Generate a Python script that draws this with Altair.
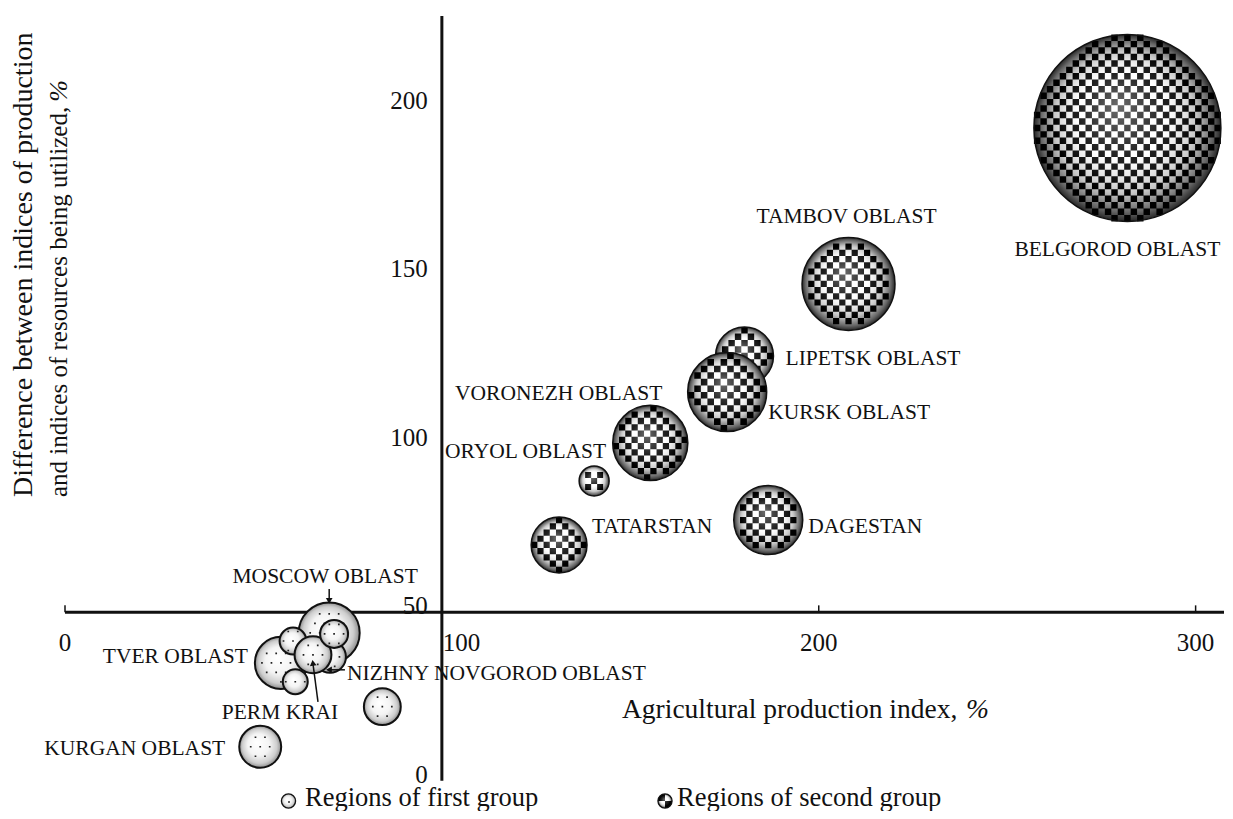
import math
import altair as alt
import pandas as pd

# ---------------- data ----------------
region = ["MOSCOW OBLAST", "NIZHNY NOVGOROD OBLAST", "TVER OBLAST", "unlabeled A",
          "PERM KRAI", "unlabeled D", "unlabeled B", "unlabeled C", "KURGAN OBLAST",
          "TATARSTAN", "ORYOL OBLAST", "VORONEZH OBLAST", "LIPETSK OBLAST",
          "KURSK OBLAST", "DAGESTAN", "TAMBOV OBLAST", "BELGOROD OBLAST"]
label = ["MOSCOW OBLAST", "NIZHNY NOVGOROD OBLAST", "TVER OBLAST", "",
         "PERM KRAI", "", "", "", "KURGAN OBLAST",
         "TATARSTAN", "ORYOL OBLAST", "VORONEZH OBLAST", "LIPETSK OBLAST",
         "KURSK OBLAST", "DAGESTAN", "TAMBOV OBLAST", "BELGOROD OBLAST"]
production_index = [70.1, 70.3, 57.3, 60.5, 65.8, 71.4, 61.1, 84.2, 51.8,
                    131.1, 140.4, 155.3, 180.3, 175.7, 186.6, 207.9, 281.9]
index_difference = [43.9, 36.8, 35.0, 41.5, 37.4, 43.6, 29.4, 22.0, 10.1,
                    70.0, 89.0, 100.3, 126.1, 115.4, 77.4, 147.5, 193.8]
bubble_value = [9.3, 2.56, 6.8, 1.8, 3.4, 1.96, 1.56, 3.4, 4.4,
                7.8, 2.25, 14.1, 8.4, 15.6, 11.9, 21.6, 87.4]
group = [1, 1, 1, 1, 1, 1, 1, 1, 1, 2, 2, 2, 2, 2, 2, 2, 2]

x_tick_values = [0, 100, 200, 300]
y_tick_values = [0, 50, 100, 150, 200]
axis_cross = (100, 50)
x_title = "Agricultural production index,"
y_title_lines = ["Difference between indices of production",
                 "and indices of resources being utilized,"]
unit_sign = "%"
legend_labels = ["Regions of first group", "Regions of second group"]

# ---------------- layout / style ----------------
FONT = "Liberation Serif"
INK = "#111111"
W, H = 1157, 793
XDOM = [0, 307]
YDOM = [-6, 229.4]
PX_X = W / (XDOM[1] - XDOM[0])
PX_Y = H / (YDOM[1] - YDOM[0])
SIZE_RANGE = 40000  # symbol size for value 100  -> radius = 10*sqrt(v) px

df = pd.DataFrame(dict(region=region, label=label, x=production_index,
                       y=index_difference, v=bubble_value, group=group))


def X(f="x"):
    return alt.X(f"{f}:Q", scale=alt.Scale(domain=XDOM, nice=False, zero=False), axis=None)


def Y(f="y"):
    return alt.Y(f"{f}:Q", scale=alt.Scale(domain=YDOM, nice=False, zero=False), axis=None)


size_enc = alt.Size("v:Q", scale=alt.Scale(type="linear", domain=[0, 100], range=[0, SIZE_RANGE], zero=True),
                    legend=None)

GRAD1 = alt.RadialGradient(
    gradient="radial",
    stops=[alt.GradientStop(color="#ffffff", offset=0),
           alt.GradientStop(color="#f4f4f4", offset=0.5),
           alt.GradientStop(color="#cdcdcd", offset=0.82),
           alt.GradientStop(color="#8c8c8c", offset=1)],
    x1=0.42, y1=0.4, r1=0.02, x2=0.5, y2=0.5, r2=0.5)
SHADE2 = alt.RadialGradient(
    gradient="radial",
    stops=[alt.GradientStop(color="rgba(255,255,255,0.40)", offset=0),
           alt.GradientStop(color="rgba(255,255,255,0.12)", offset=0.45),
           alt.GradientStop(color="rgba(0,0,0,0.22)", offset=0.75),
           alt.GradientStop(color="rgba(0,0,0,0.60)", offset=0.92),
           alt.GradientStop(color="rgba(0,0,0,0.85)", offset=1)],
    x1=0.45, y1=0.38, r1=0.02, x2=0.5, y2=0.5, r2=0.5)


def checker_path(r_px, cell_px=6.4):
    """Checkerboard texture as a symbol path in [-1, 1] units."""
    n = max(3, int(round(2 * r_px / cell_px)))
    c = 2.0 / n
    parts = []
    for i in range(n):
        for j in range(n):
            if (i + j) % 2:
                continue
            x0, y0 = -1 + i * c, -1 + j * c
            fx = max(abs(x0), abs(x0 + c))
            fy = max(abs(y0), abs(y0 + c))
            if fx * fx + fy * fy <= 1.03:
                parts.append(f"M{x0:.4f},{y0:.4f}h{c:.4f}v{c:.4f}h{-c:.4f}z")
    return "".join(parts) or "M0,0h0.01v0.01z"


def dots_path(r_px, spacing_px=9.5, dot_px=1.7):
    """Sparse dot texture as a symbol path in [-1, 1] units."""
    su = spacing_px / r_px
    du = dot_px / 2 / r_px
    k = int(1 / su) + 1
    parts = []
    for j in range(-k, k + 1):
        for i in range(-k, k + 1):
            x = i * su + (su / 2 if j % 2 else 0)
            y = j * su
            if x * x + y * y <= 0.8 ** 2:
                parts.append(f"M{x - du:.4f},{y - du:.4f}h{2 * du:.4f}v{2 * du:.4f}h{-2 * du:.4f}z")
    return "".join(parts) or "M-0.05,-0.05h0.1v0.1h-0.1z"


layers = []

# axis lines
axis_df = pd.DataFrame({"x": [axis_cross[0], 0], "y": [0, axis_cross[1]],
                        "x2": [axis_cross[0], 310], "y2": [227, axis_cross[1]]})
layers.append(alt.Chart(axis_df).mark_rule(color=INK, strokeWidth=3).encode(
    x=X(), y=Y(), x2="x2:Q", y2="y2:Q"))

# small upward ticks on the x axis
tick_df = pd.DataFrame({"x": x_tick_values, "y": [axis_cross[1]] * len(x_tick_values)})
tick_df["y2"] = tick_df["y"] + 7 / PX_Y
layers.append(alt.Chart(tick_df).mark_rule(color=INK, strokeWidth=1.5).encode(
    x=X(), y=Y(), y2="y2:Q"))

# tick labels
xl = pd.DataFrame({"x": x_tick_values, "y": [axis_cross[1]] * len(x_tick_values),
                   "t": [str(v) for v in x_tick_values]})
layers.append(alt.Chart(xl).transform_filter(f"datum.x != {axis_cross[0]}").mark_text(
    font=FONT, fontSize=25, color=INK, align="center", baseline="middle", dy=31).encode(
    x=X(), y=Y(), text="t:N"))
layers.append(alt.Chart(xl).transform_filter(f"datum.x == {axis_cross[0]}").mark_text(
    font=FONT, fontSize=25, color=INK, align="left", baseline="middle", dx=1, dy=31).encode(
    x=X(), y=Y(), text="t:N"))
yl = pd.DataFrame({"y": y_tick_values, "x": [axis_cross[0]] * len(y_tick_values),
                   "t": [str(v) for v in y_tick_values]})
layers.append(alt.Chart(yl).mark_text(
    font=FONT, fontSize=25, color=INK, align="right", baseline="middle", dx=-14, dy=-6).encode(
    x=X(), y=Y(), text="t:N"))

# bubbles: one stack of layers per region so overlaps keep the data order
for reg, g, v in zip(region, group, bubble_value):
    r_px = 10 * math.sqrt(v)
    base = alt.Chart(df).transform_filter(alt.datum.region == reg)
    enc = dict(x=X(), y=Y(), size=size_enc)
    if g == 1:
        layers.append(base.mark_circle(fill=GRAD1, stroke=INK, strokeWidth=2, opacity=1).encode(**enc))
        layers.append(base.mark_point(shape=dots_path(r_px), filled=True, fill="#222222",
                                      strokeWidth=0, opacity=1).encode(**enc))
    else:
        layers.append(base.mark_circle(fill="#ffffff", strokeWidth=0, opacity=1).encode(**enc))
        layers.append(base.mark_point(shape=checker_path(r_px), filled=True, fill="#000000",
                                      strokeWidth=0, opacity=1).encode(**enc))
        layers.append(base.mark_circle(fill=SHADE2, stroke=INK, strokeWidth=1.5, opacity=1).encode(**enc))

# region labels: (dx, dy, align) in pixels relative to bubble centre
label_place = {
    "BELGOROD OBLAST": (-10, 122, "center"),
    "TAMBOV OBLAST": (-2, -67, "center"),
    "LIPETSK OBLAST": (41, 3, "left"),
    "KURSK OBLAST": (41, 21, "left"),
    "VORONEZH OBLAST": (12, -49, "right"),
    "ORYOL OBLAST": (12, -29, "right"),
    "TATARSTAN": (33, -18, "left"),
    "DAGESTAN": (40, 7, "left"),
    "MOSCOW OBLAST": (-4, -56, "center"),
    "TVER OBLAST": (-33, -6, "right"),
    "NIZHNY NOVGOROD OBLAST": (17, 17, "left"),
    "PERM KRAI": (-33, 58, "center"),
    "KURGAN OBLAST": (-35, 2, "right"),
}
for name, (dx, dy, al) in label_place.items():
    layers.append(alt.Chart(df).transform_filter(alt.datum.region == name).mark_text(
        font=FONT, fontSize=21.5, color=INK, align=al, baseline="middle", dx=dx, dy=dy).encode(
        x=X(), y=Y(), text="label:N"))

# leader arrows: start (sx, sy) -> end (ex, ey) in px relative to bubble centre, head angle
arrow_place = {
    "MOSCOW OBLAST": (0, -44, 0, -33, 180),
    "PERM KRAI": (5, 47, 0, 9, 353),
    "NIZHNY NOVGOROD OBLAST": (15, 13, 0, 13, 270),
}
rows = []
for name, (sx, sy, ex, ey, ang) in arrow_place.items():
    r = df[df.region == name].iloc[0]
    rows.append({"x": r.x + sx / PX_X, "y": r.y - sy / PX_Y,
                 "x2": r.x + ex / PX_X, "y2": r.y - ey / PX_Y, "angle": ang})
arrow_df = pd.DataFrame(rows)
layers.append(alt.Chart(arrow_df).mark_rule(color=INK, strokeWidth=1.5).encode(
    x=X(), y=Y(), x2="x2:Q", y2="y2:Q"))
layers.append(alt.Chart(arrow_df).mark_point(
    shape="triangle", filled=True, fill=INK, size=45, opacity=1, strokeWidth=0).encode(
    x=X("x2"), y=Y("y2"), angle=alt.Angle("angle:Q", scale=None)))

# axis titles (plain text + italic percent sign)
layers.append(alt.Chart(pd.DataFrame({"t": [x_title]})).mark_text(
    font=FONT, fontSize=27.5, color=INK, align="left", baseline="alphabetic").encode(
    x=alt.value(557), y=alt.value(710), text="t:N"))
layers.append(alt.Chart(pd.DataFrame({"t": [unit_sign]})).mark_text(
    font=FONT, fontSize=27.5, fontStyle="italic", color=INK, align="left", baseline="alphabetic").encode(
    x=alt.value(901), y=alt.value(710), text="t:N"))
for i, (line, fs) in enumerate(zip(y_title_lines, [28, 25])):
    layers.append(alt.Chart(pd.DataFrame({"t": [line]})).mark_text(
        font=FONT, fontSize=fs, color=INK, align="left", baseline="middle", angle=270).encode(
        x=alt.value(-41 + 35 * i), y=alt.value(489), text="t:N"))
layers.append(alt.Chart(pd.DataFrame({"t": [unit_sign]})).mark_text(
    font=FONT, fontSize=26, fontStyle="italic", color=INK, align="right", baseline="middle", angle=270).encode(
    x=alt.value(-6), y=alt.value(72), text="t:N"))

# legend
QUADS = "M0,0L-1,0A1,1,0,0,1,0,-1Z M0,0L1,0A1,1,0,0,1,0,1Z"
leg = pd.DataFrame({"t": legend_labels})
icon_y, text_y = 793, 798
# first group icon
d1 = leg.iloc[[0]]
layers.append(alt.Chart(d1).mark_circle(fill=GRAD1, stroke=INK, strokeWidth=1.3, opacity=1, size=200).encode(
    x=alt.value(223.5), y=alt.value(icon_y)))
layers.append(alt.Chart(d1).mark_point(shape="square", filled=True, fill=INK, size=3, opacity=1, strokeWidth=0).encode(
    x=alt.value(224), y=alt.value(icon_y + 1)))
layers.append(alt.Chart(d1).mark_text(font=FONT, fontSize=26.5, color=INK, align="left", baseline="alphabetic").encode(
    x=alt.value(240), y=alt.value(text_y), text="t:N"))
# second group icon
d2 = leg.iloc[[1]]
layers.append(alt.Chart(d2).mark_circle(fill="#ffffff", strokeWidth=0, opacity=1, size=200).encode(
    x=alt.value(600), y=alt.value(icon_y)))
layers.append(alt.Chart(d2).mark_point(shape=QUADS, filled=True, fill="#000000", size=200, opacity=1, strokeWidth=0).encode(
    x=alt.value(600), y=alt.value(icon_y)))
layers.append(alt.Chart(d2).mark_circle(fill=SHADE2, stroke=INK, strokeWidth=1.3, opacity=1, size=200).encode(
    x=alt.value(600), y=alt.value(icon_y)))
layers.append(alt.Chart(d2).mark_text(font=FONT, fontSize=26.5, color=INK, align="left", baseline="alphabetic").encode(
    x=alt.value(612), y=alt.value(text_y), text="t:N"))

chart = alt.layer(*layers).properties(
    width=W, height=H,
    padding={"left": 57, "top": 0, "right": 2, "bottom": 10},
    autosize=alt.AutoSizeParams(type="none"),
).configure_view(stroke=None)

chart.save("out.html", embed_options={"renderer": "svg", "actions": False})
